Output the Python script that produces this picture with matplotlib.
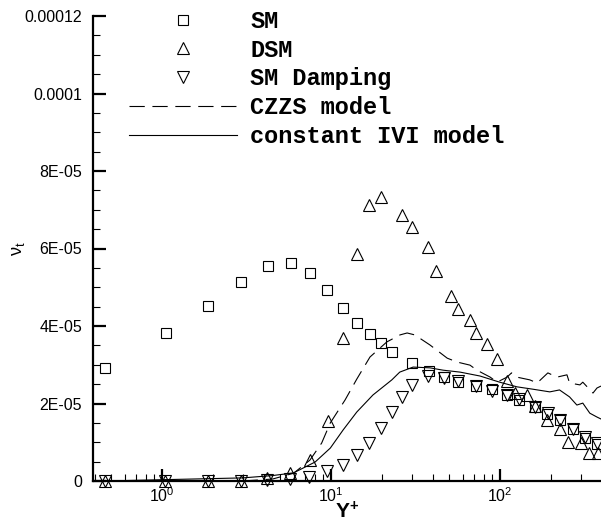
import matplotlib
matplotlib.use("Agg")
import matplotlib.pyplot as plt
from matplotlib.ticker import FixedLocator, FixedFormatter, LogLocator

plt.rcParams['font.family'] = ['Liberation Sans', 'DejaVu Sans']
plt.rcParams['mathtext.fontset'] = 'custom'
plt.rcParams['mathtext.rm'] = 'Liberation Sans'
plt.rcParams['mathtext.it'] = 'Liberation Sans:italic'
plt.rcParams['mathtext.bf'] = 'Liberation Sans:bold'
plt.rcParams['lines.scale_dashes'] = False

# SM (squares)
sm_y = [0.46, 1.06, 1.87, 2.93, 4.24, 5.8, 7.51, 9.47, 11.8, 14.3, 17.0, 19.8, 23.0,
        30.2, 38.0, 46.6, 56.4, 72.1, 89.7, 110, 130, 161, 190, 226, 270, 318, 375]
sm_v = [2.92, 3.82, 4.52, 5.14, 5.55, 5.63, 5.37, 4.93, 4.46, 4.08, 3.79, 3.56, 3.33,
        3.05, 2.84, 2.68, 2.55, 2.45, 2.37, 2.22, 2.09, 1.91, 1.73, 1.58, 1.34, 1.11, 0.95]

# DSM (up triangles)
dsm_y = [0.46, 1.04, 1.87, 2.93, 4.2, 5.7, 7.5, 9.6, 11.8, 14.3, 16.8, 19.8, 26.3, 30.2,
         37.5, 41.8, 51.3, 56.4, 66.4, 72.1, 83.8, 96, 110, 123, 145, 161, 190, 226,
         253, 301, 337, 380]
dsm_v = [0, 0, 0, 0, 0.08, 0.2, 0.54, 1.55, 3.69, 5.86, 7.12, 7.33, 6.86, 6.55,
         6.04, 5.42, 4.77, 4.44, 4.15, 3.82, 3.54, 3.15, 2.58, 2.27, 2.22, 1.94, 1.57, 1.34,
         1.0, 0.98, 0.72, 0.72]

# SM Damping (down triangles)
smd_y = [0.46, 1.04, 1.87, 2.93, 4.2, 5.7, 7.4, 9.5, 11.8, 14.3, 16.8, 19.8, 23.0, 26.3,
         30.2, 37.5, 46.6, 56.4, 72.1, 89.7, 110, 130, 161, 192, 226, 270, 318, 375]
smd_v = [0, 0, 0, 0, 0.02, 0.05, 0.1, 0.26, 0.41, 0.67, 0.98, 1.37, 1.78, 2.17,
         2.48, 2.71, 2.66, 2.58, 2.45, 2.32, 2.22, 2.12, 1.91, 1.75, 1.58, 1.34, 1.14, 0.98]

# CZZS model (dashed)
czzs_y = [0.46, 3.0, 4.5, 6.0, 7.5, 8.8, 9.9, 12.1, 14.2, 17.0, 21.4, 25.6, 28.2, 31.3,
          38.5, 48.7, 55.7, 66.4, 73, 87.5, 96, 110, 117, 126, 150, 166, 192, 217,
          249, 258, 297, 309, 355, 375, 396]
czzs_v = [0, 0, 0.05, 0.2, 0.54, 0.98, 1.50, 2.09, 2.63, 3.20, 3.59, 3.77, 3.82, 3.77,
          3.51, 3.17, 3.07, 2.99, 2.86, 2.68, 2.55, 2.68, 2.79, 2.68, 2.61, 2.53, 2.79, 2.68,
          2.74, 2.53, 2.48, 2.55, 2.27, 2.40, 2.45]

# constant IVI model (solid)
civi_y = [0.46, 3.0, 4.5, 6.0, 8.05, 9.9, 11.8, 14.2, 17.7, 22.9, 25.5, 30.6, 38.5, 46,
          58, 76, 99.6, 126, 156, 197, 225, 258, 285, 309, 340, 375, 396]
civi_v = [0, 0.08, 0.14, 0.21, 0.49, 0.85, 1.32, 1.78, 2.22, 2.61, 2.81, 2.94, 2.92, 2.86,
          2.81, 2.71, 2.55, 2.43, 2.37, 2.30, 2.35, 2.17, 1.96, 2.01, 1.75, 1.65, 1.60]

ytick_vals = [0, 2e-5, 4e-5, 6e-5, 8e-5, 1e-4, 1.2e-4]
ytick_labels = ["0", "2E-05", "4E-05", "6E-05", "8E-05", "0.0001", "0.00012"]

scale = 1e-5
fig = plt.figure(figsize=(6.01, 5.23), dpi=100)
ax = fig.add_axes([93 / 601, 42 / 523, 508 / 601, 465 / 523])

mk = dict(linestyle='none', markerfacecolor='none', markeredgecolor='black',
          markeredgewidth=0.8, clip_on=False, zorder=3)
ax.plot(sm_y, [v * scale for v in sm_v], marker='s', markersize=6.5, label='SM', **mk)
ax.plot(dsm_y, [v * scale for v in dsm_v], marker='^', markersize=8.5, label='DSM', **mk)
ax.plot(smd_y, [v * scale for v in smd_v], marker='v', markersize=8.5, label='SM Damping', **mk)
ax.plot(czzs_y, [v * scale for v in czzs_v], color='black', lw=0.8, dashes=(11, 5.5),
        label='CZZS model')
ax.plot(civi_y, [v * scale for v in civi_v], color='black', lw=0.8, label='constant IVI model')

ax.set_xscale('log')
ax.set_xlim(0.39, 396)
ax.set_ylim(0, 1.2e-4)

ax.spines['top'].set_visible(False)
ax.spines['right'].set_visible(False)
ax.spines['left'].set_linewidth(1.6)
ax.spines['bottom'].set_linewidth(1.6)

ax.yaxis.set_major_locator(FixedLocator(ytick_vals))
ax.yaxis.set_major_formatter(FixedFormatter(ytick_labels))
ax.yaxis.set_minor_locator(FixedLocator([i * 5e-6 for i in range(25)]))
ax.xaxis.set_minor_locator(LogLocator(base=10, subs=range(2, 10), numticks=20))

ax.tick_params(which='major', direction='in', length=9, width=1.6, labelsize=11.5)
ax.tick_params(which='minor', direction='in', length=5, width=0.8)
ax.tick_params(axis='y', which='major', pad=8)
ax.tick_params(axis='x', which='major', pad=4)

ax.set_xlabel(r'$\mathbf{Y^{+}}$', fontsize=15)
ax.xaxis.label.set_va('center')
ax.xaxis.set_label_coords(0.5, -0.067)
ax.set_ylabel(r'$\mathrm{\nu}_\mathrm{t}$', fontsize=13)
ax.yaxis.label.set_va('center')
ax.yaxis.set_label_coords(-0.146, 0.5)

leg = ax.legend(loc='upper left', bbox_to_anchor=(117 / 601, 1 + 2 / 523),
                bbox_transform=fig.transFigure, frameon=False, borderpad=0,
                handlelength=4.6, handletextpad=0.55, labelspacing=0.245,
                prop={'family': 'Liberation Mono', 'weight': 'bold', 'size': 17})

fig.savefig('out.png', dpi=100)
